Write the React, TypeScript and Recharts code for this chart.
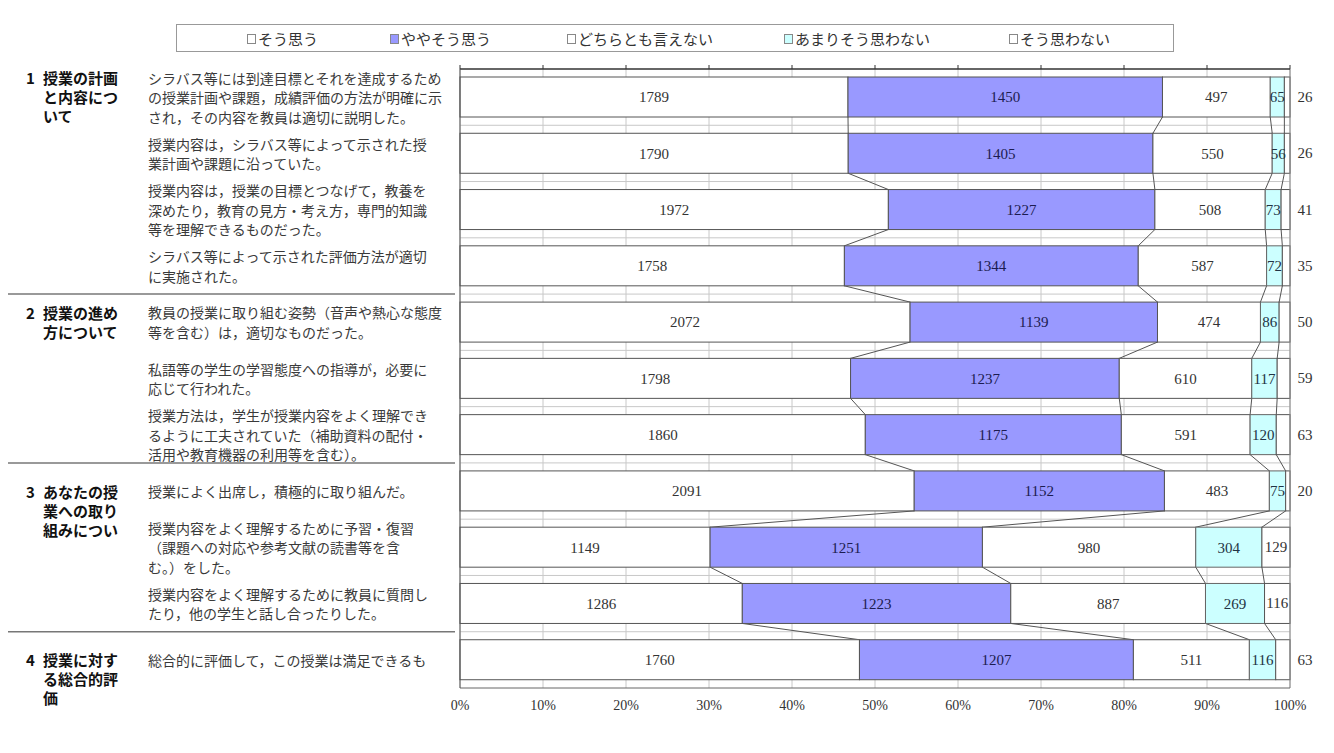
import React from "react";
import {
  Bar,
  BarChart,
  CartesianGrid,
  LabelList,
  Legend,
  ReferenceLine,
  XAxis,
  YAxis,
} from "recharts";

const questions = [
  "シラバス等には到達目標とそれを達成するため\nの授業計画や課題，成績評価の方法が明確に示\nされ，その内容を教員は適切に説明した。",
  "授業内容は，シラバス等によって示された授\n業計画や課題に沿っていた。",
  "授業内容は，授業の目標とつなげて，教養を\n深めたり，教育の見方・考え方，専門的知識\n等を理解できるものだった。",
  "シラバス等によって示された評価方法が適切\nに実施された。",
  "教員の授業に取り組む姿勢（音声や熱心な態度\n等を含む）は，適切なものだった。",
  "私語等の学生の学習態度への指導が，必要に\n応じて行われた。",
  "授業方法は，学生が授業内容をよく理解でき\nるように工夫されていた（補助資料の配付・\n活用や教育機器の利用等を含む）。",
  "授業によく出席し，積極的に取り組んだ。",
  "授業内容をよく理解するために予習・復習\n（課題への対応や参考文献の読書等を含\nむ。）をした。",
  "授業内容をよく理解するために教員に質問し\nたり，他の学生と話し合ったりした。",
  "総合的に評価して，この授業は満足できるも",
];

const groupStarts = [0, 4, 7, 10];
const groupNumbers = ["1", "2", "3", "4"];
const groupTitles = [
  "授業の計画\nと内容につ\nいて",
  "授業の進め\n方について",
  "あなたの授\n業への取り\n組みについ",
  "授業に対す\nる総合的評\n価",
];

const seriesNames = ["そう思う", "ややそう思う", "どちらとも言えない", "あまりそう思わない", "そう思わない"];
const seriesKeys = ["agree", "somewhatAgree", "neutral", "somewhatDisagree", "disagree"];

const agree = [1789, 1790, 1972, 1758, 2072, 1798, 1860, 2091, 1149, 1286, 1760];
const somewhatAgree = [1450, 1405, 1227, 1344, 1139, 1237, 1175, 1152, 1251, 1223, 1207];
const neutral = [497, 550, 508, 587, 474, 610, 591, 483, 980, 887, 511];
const somewhatDisagree = [65, 56, 73, 72, 86, 117, 120, 75, 304, 269, 116];
const disagree = [26, 26, 41, 35, 50, 59, 63, 20, 129, 116, 63];

const xTicks = [0, 0.1, 0.2, 0.3, 0.4, 0.5, 0.6, 0.7, 0.8, 0.9, 1];

const series = [agree, somewhatAgree, neutral, somewhatDisagree, disagree];
const totals = questions.map((_, i) => series.reduce((s, arr) => s + arr[i], 0));
const cumShare = (i: number, k: number) => {
  let s = 0;
  for (let j = 0; j <= k; j++) s += series[j][i];
  return s / totals[i];
};

const data = questions.map((q, i) => ({
  name: q,
  agree: agree[i],
  somewhatAgree: somewhatAgree[i],
  neutral: neutral[i],
  somewhatDisagree: somewhatDisagree[i],
  disagree: disagree[i],
}));

// layout
const W = 1334;
const H = 753;
const M = { top: 68, right: 44, bottom: 35, left: 459 };
const PLOT_LEFT = 460;
const PLOT_W = W - M.right - PLOT_LEFT;
const PLOT_TOP = 69;
const PLOT_H = H - M.bottom - 30 - PLOT_TOP;
const BAND = PLOT_H / questions.length;
const LINE_H = 19.5;

const SERIF = "'Liberation Serif', 'Noto Sans CJK JP', serif";
const JP = "'Noto Sans CJK JP', sans-serif";

const fills = ["#ffffff", "#9999ff", "#ffffff", "#ccffff", "#ffffff"];
const strokes = ["#555", "#555", "#555", "#666", "#555"];
const labelColors = ["#333", "#1c1c50", "#333", "#234", "#333"];

const makeShape = (k: number) => (props: any) => {
  const { x, y, width, height, payload } = props;
  const i = questions.indexOf(payload?.name);
  const next = k < 4 && i >= 0 && i < questions.length - 1;
  const x2 = next ? PLOT_LEFT + cumShare(i + 1, k) * PLOT_W : 0;
  return (
    <g>
      <rect x={x} y={y} width={width} height={height} fill={fills[k]} stroke={strokes[k]} strokeWidth={1} />
      {next && (
        <line x1={x + width} y1={y + height} x2={x2} y2={y + BAND} stroke="#555" strokeWidth={1} />
      )}
    </g>
  );
};

const LastLabel = (props: any) => {
  const { x, y, width, height, value } = props;
  const share = width / PLOT_W;
  const lx = share < 0.03 ? PLOT_LEFT + PLOT_W + 15 : x + width / 2;
  return (
    <text x={lx} y={y + height / 2} textAnchor="middle" dominantBaseline="central" fontSize={15} fontFamily={SERIF} fill="#333">
      {value}
    </text>
  );
};

const QuestionTick = (props: any) => {
  const { y, payload } = props;
  const i = questions.indexOf(payload?.value);
  if (i < 0) return null;
  const lines = questions[i].split("\n");
  const first = y - ((lines.length - 1) * LINE_H) / 2;
  const g = groupStarts.indexOf(i);
  return (
    <g>
      {lines.map((l, j) => (
        <text key={j} x={148} y={first + j * LINE_H} dominantBaseline="central" fontSize={14} fill="#3a3a3a" fontFamily={JP}>
          {l}
        </text>
      ))}
      {g >= 0 && (
        <g fontFamily={JP} fontWeight={700} fontSize={15} fill="#111">
          <text x={26} y={first} dominantBaseline="central">{groupNumbers[g]}</text>
          {groupTitles[g].split("\n").map((l, j) => (
            <text key={j} x={43} y={first + j * 19} dominantBaseline="central">{l}</text>
          ))}
          {g > 0 && <line x1={8} x2={455} y1={y - BAND / 2} y2={y - BAND / 2} stroke="#777" strokeWidth={1.5} />}
        </g>
      )}
    </g>
  );
};

const legendLeft = [70, 213, 390, 607, 832];

const LegendBox = () => (
  <div style={{ position: "relative", width: 996, height: 26, border: "1px solid #999", background: "#fff" }}>
    {seriesNames.map((n, k) => (
      <span
        key={n}
        style={{
          position: "absolute",
          left: legendLeft[k],
          top: 3,
          fontFamily: JP,
          fontSize: 15,
          color: "#333",
          display: "flex",
          alignItems: "center",
          whiteSpace: "nowrap",
        }}
      >
        <span
          style={{
            display: "inline-block",
            width: 7,
            height: 8,
            marginRight: 2,
            border: "1px solid #888",
            background: fills[k],
          }}
        />
        {n}
      </span>
    ))}
  </div>
);

export default function App() {
  return (
    <div style={{ position: "absolute", left: 0, top: 0, width: W, height: H, background: "#fff" }}>
      <BarChart width={W} height={H} data={data} layout="vertical" stackOffset="expand" margin={M}>
        <CartesianGrid
          stroke="#c8c8c8"
          horizontalPoints={questions.slice(1).map((_, i) => PLOT_TOP + (i + 1) * BAND)}
        />
        <XAxis
          type="number"
          domain={[0, 1]}
          ticks={xTicks}
          tickFormatter={(v: number) => `${Math.round(v * 100)}%`}
          tickLine={false}
          tickMargin={6}
          axisLine={{ stroke: "#666" }}
          tick={{ fontSize: 14, fontFamily: SERIF, fill: "#333" }}
        />
        <XAxis
          xAxisId="top"
          orientation="top"
          type="number"
          domain={[0, 1]}
          ticks={xTicks}
          height={1}
          tickSize={4}
          tickFormatter={() => ""}
          axisLine={{ stroke: "#333", strokeWidth: 1.5 }}
          tickLine={{ stroke: "#333" }}
        />
        <YAxis
          type="category"
          dataKey="name"
          width={1}
          tickLine={false}
          axisLine={{ stroke: "#555" }}
          tick={<QuestionTick />}
          interval={0}
        />
        <ReferenceLine x={1} stroke="#888" />
        <Legend
          layout="horizontal"
          verticalAlign="middle"
          align="center"
          content={<LegendBox />}
          wrapperStyle={{ top: 24, left: 176, width: 998, height: 28 }}
        />
        {seriesKeys.map((key, k) => (
          <Bar
            key={key}
            dataKey={key}
            name={seriesNames[k]}
            stackId="a"
            barSize={40}
            fill={fills[k]}
            shape={makeShape(k)}
            isAnimationActive={false}
          >
            {k < 4 ? (
              <LabelList
                dataKey={key}
                position="center"
                fontSize={15}
                fontFamily={SERIF}
                fill={labelColors[k]}
              />
            ) : (
              <LabelList dataKey={key} content={<LastLabel />} />
            )}
          </Bar>
        ))}
      </BarChart>
    </div>
  );
}
